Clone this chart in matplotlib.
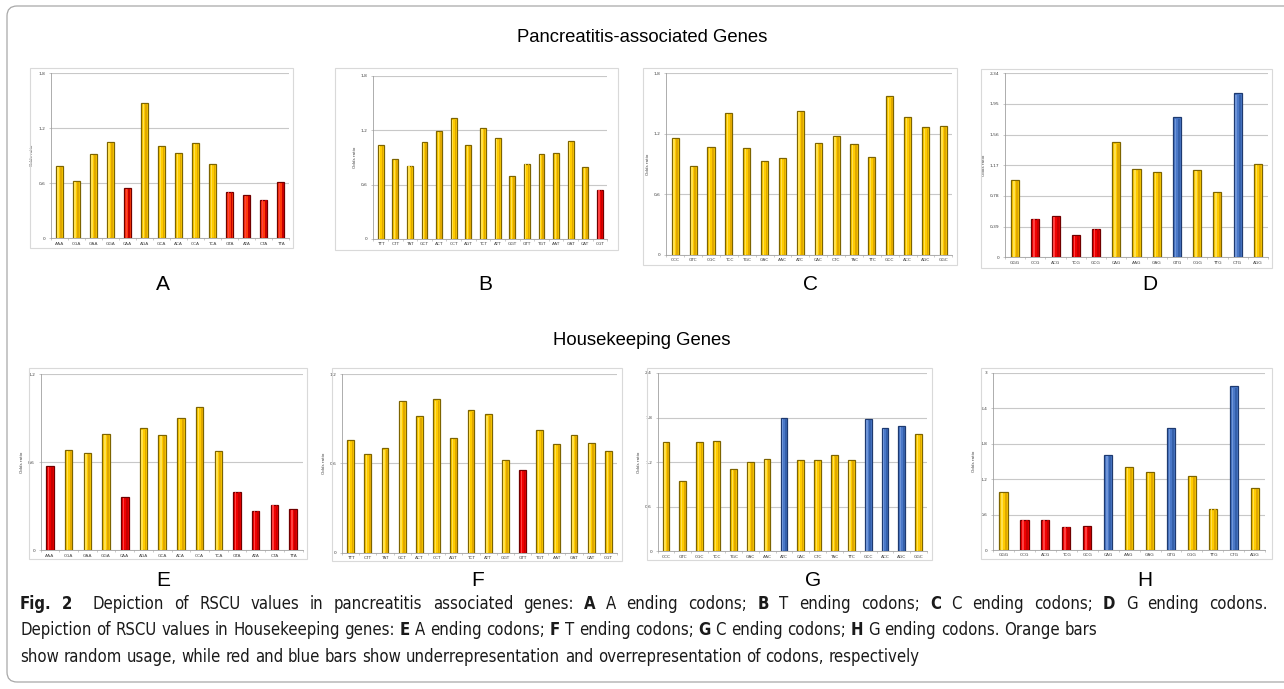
import numpy as np
import matplotlib
matplotlib.use("Agg")
import matplotlib.pyplot as plt
from matplotlib.patches import Rectangle, FancyBboxPatch
from matplotlib.transforms import IdentityTransform

W, H = 1284, 689

# ---- data (RSCU / odds ratio) ----
codons_a = ["AAA", "CGA", "GAA", "GGA", "CAA", "AGA", "GCA", "ACA", "CCA", "TCA", "GTA", "ATA", "CTA", "TTA"]
codons_t = ["TTT", "CTT", "TAT", "GCT", "ACT", "CCT", "AGT", "TCT", "ATT", "GGT", "GTT", "TGT", "AAT", "GAT", "CAT", "CGT"]
codons_c = ["CCC", "GTC", "CGC", "TCC", "TGC", "GAC", "AAC", "ATC", "CAC", "CTC", "TAC", "TTC", "GCC", "ACC", "AGC", "GGC"]
codons_g = ["GGG", "CCG", "ACG", "TCG", "GCG", "CAG", "AAG", "GAG", "GTG", "CGG", "TTG", "CTG", "AGG"]

# pancreatitis-associated genes
vals_a = [0.79, 0.62, 0.92, 1.05, 0.545, 1.48, 1.01, 0.93, 1.04, 0.81, 0.51, 0.47, 0.42, 0.61]
kind_a = ["o", "o", "o", "o", "r", "o", "o", "o", "o", "o", "r", "r", "r", "r"]
vals_b = [1.04, 0.88, 0.81, 1.07, 1.19, 1.33, 1.04, 1.22, 1.11, 0.69, 0.83, 0.94, 0.95, 1.08, 0.79, 0.54]
kind_b = ["o"] * 15 + ["r"]
vals_c = [1.16, 0.885, 1.07, 1.41, 1.06, 0.93, 0.96, 1.43, 1.11, 1.18, 1.10, 0.97, 1.575, 1.37, 1.265, 1.28]
kind_c = ["o"] * 16
vals_d = [0.98, 0.49, 0.52, 0.28, 0.36, 1.46, 1.12, 1.085, 1.78, 1.115, 0.83, 2.09, 1.19]
kind_d = ["o", "r", "r", "r", "r", "o", "o", "o", "b", "o", "o", "b", "o"]

# housekeeping genes
vals_e = [0.575, 0.68, 0.66, 0.795, 0.36, 0.83, 0.785, 0.90, 0.975, 0.675, 0.40, 0.27, 0.31, 0.28]
kind_e = ["r", "o", "o", "o", "r", "o", "o", "o", "o", "o", "r", "r", "r", "r"]
vals_f = [0.76, 0.665, 0.70, 1.02, 0.915, 1.03, 0.77, 0.955, 0.93, 0.62, 0.555, 0.825, 0.73, 0.79, 0.74, 0.68]
kind_f = ["o"] * 10 + ["r"] + ["o"] * 5
vals_g = [1.47, 0.94, 1.47, 1.49, 1.11, 1.20, 1.24, 1.80, 1.23, 1.23, 1.29, 1.23, 1.78, 1.66, 1.69, 1.58]
kind_g = ["o"] * 7 + ["b"] + ["o"] * 4 + ["b", "b", "b", "o"]
vals_h = [0.98, 0.51, 0.51, 0.395, 0.40, 1.615, 1.41, 1.32, 2.07, 1.25, 0.695, 2.78, 1.045]
kind_h = ["o", "r", "r", "r", "r", "b", "o", "o", "b", "o", "o", "b", "o"]

ticks_18 = [0, 0.6, 1.2, 1.8]
ticks_d = [0, 0.39, 0.78, 1.17, 1.56, 1.95, 2.34]
ticks_12 = [0, 0.6, 1.2]
ticks_24 = [0, 0.6, 1.2, 1.8, 2.4]
ticks_30 = [0, 0.6, 1.2, 1.8, 2.4, 3.0]

YELLOW, YELLOW_EDGE, YELLOW_DARK, YELLOW_LIGHT = "#FFCC00", "#7D6400", "#E0A800", "#FFE04D"
BLUE, BLUE_EDGE, BLUE_DARK, BLUE_LIGHT = "#4A78C8", "#1E3A70", "#3560AA", "#6F95D8"
RED_OR, RED, RED_EDGE, RED_DARK, RED_LIGHT = "#FF3A0A", "#F00000", "#700000", "#C80000", "#FF4040"

fig = plt.figure(figsize=(W / 100, H / 100), dpi=100)
fig.patch.set_facecolor("white")
PIX = IdentityTransform()


def fmt(v):
    s = f"{v:.2f}".rstrip("0").rstrip(".")
    return s.replace(".", ",")


def box(x0, y0, x1, y1, color="#D9D9D9", lw=0.8):
    fig.patches.append(Rectangle((x0, H - y1), x1 - x0, y1 - y0, transform=PIX,
                                 fill=False, edgecolor=color, linewidth=lw))


def panel(frame, plot, labels, values, kinds, yticks, red):
    box(*frame)
    x0, x1, ytop, ybot = plot
    ax = fig.add_axes([x0 / W, 1 - ybot / H, (x1 - x0) / W, (ybot - ytop) / H])
    x = np.arange(len(labels))
    v = np.array(values)
    face = {"o": YELLOW, "r": red, "b": BLUE}
    edge = {"o": YELLOW_EDGE, "r": RED_EDGE, "b": BLUE_EDGE}
    dark = {"o": YELLOW_DARK, "r": RED_DARK, "b": BLUE_DARK}
    light = {"o": YELLOW_LIGHT, "r": RED_LIGHT, "b": BLUE_LIGHT}
    ax.bar(x, v, width=0.4, color=[face[k] for k in kinds],
           edgecolor=[edge[k] for k in kinds], linewidth=0.9, zorder=3)
    # fake 3d shading like the excel bars
    ax.bar(x + 0.11, v * 0.99, width=0.1, color=[dark[k] for k in kinds], linewidth=0, zorder=4)
    ax.bar(x - 0.07, v * 0.99, width=0.08, color=[light[k] for k in kinds], linewidth=0, zorder=4)
    ax.set_xlim(-0.5, len(labels) - 0.5)
    ax.set_ylim(0, yticks[-1])
    ax.set_yticks(yticks)
    ax.set_yticklabels([fmt(t) for t in yticks])
    ax.set_xticks(x)
    ax.set_xticklabels(labels)
    ax.set_xticks(np.arange(len(labels) + 1) - 0.5, minor=True)
    ax.tick_params(axis="x", which="major", length=0, pad=2.5, labelsize=3.2, labelcolor="#404040")
    ax.tick_params(axis="x", which="minor", length=1.5, width=0.4, color="#A0A0A0")
    ax.tick_params(axis="y", length=1.5, width=0.4, color="#A0A0A0", pad=2.5,
                   labelsize=3.2, labelcolor="#404040")
    ax.grid(axis="y", color="#C8C8C8", linewidth=0.8, zorder=0)
    ax.set_axisbelow(True)
    for s in ["top", "right"]:
        ax.spines[s].set_visible(False)
    for s in ["left", "bottom"]:
        ax.spines[s].set_color("#A0A0A0")
        ax.spines[s].set_linewidth(0.6)
    ax.set_ylabel("Odds ratio", fontsize=3, color="#404040", labelpad=3)
    ax.patch.set_alpha(0)
    return ax


# top row: pancreatitis-associated genes
panel((30, 68, 293, 248), (50.7, 289.4, 73.3, 238.3), codons_a, vals_a, kind_a, ticks_18, RED_OR)
panel((335, 68, 618, 250), (373.4, 607.3, 75.7, 239), codons_t, vals_b, kind_b, ticks_18, RED)
panel((643, 68, 957, 265), (666.3, 952.3, 73.3, 255), codons_c, vals_c, kind_c, ticks_18, RED)
panel((981, 69, 1272, 268), (1005, 1268, 73.3, 257.3), codons_g, vals_d, kind_d, ticks_d, RED)

# bottom row: housekeeping genes
panel((29, 368, 307, 559), (40.6, 302.5, 374, 550.3), codons_a, vals_e, kind_e, ticks_12, RED)
panel((332, 368, 622, 561), (342.1, 617, 374, 552.7), codons_t, vals_f, kind_f, ticks_12, RED)
panel((647, 368, 932, 560), (657.6, 927.1, 373, 551.3), codons_c, vals_g, kind_g, ticks_24, RED)
panel((981, 368, 1272, 559), (992.9, 1265.3, 373, 550), codons_g, vals_h, kind_h, ticks_30, RED)

# headings and panel letters
sans = ["Liberation Sans", "DejaVu Sans"]
fig.text(642 / W, 1 - 38 / H, "Pancreatitis-associated Genes", ha="center", va="center",
         fontsize=13.3, family=sans)
fig.text(642 / W, 1 - 340 / H, "Housekeeping Genes", ha="center", va="center",
         fontsize=13.3, family=sans)
for letter, lx, ly in [("A", 163, 285), ("B", 485, 285), ("C", 810, 285), ("D", 1150, 285),
                       ("E", 163, 580), ("F", 478, 580), ("G", 813, 580), ("H", 1145, 580)]:
    fig.text(lx / W, 1 - ly / H, letter, ha="center", va="center", fontsize=15, family=sans)

# outer rounded frame
fig.patches.append(FancyBboxPatch((7, H - 682), 1300, 676, boxstyle="round,pad=0,rounding_size=10",
                                  transform=PIX, fill=False, edgecolor="#A8A8A8", linewidth=0.9))

# caption with bold runs
cap_font = ["DejaVu Sans"]
caption = [
    [("Fig. 2", "bold"), ("  Depiction of RSCU values in pancreatitis associated genes: ", "normal"),
     ("A", "bold"), (" A ending codons; ", "normal"), ("B", "bold"), (" T ending codons; ", "normal"),
     ("C", "bold"), (" C ending codons; ", "normal"), ("D", "bold"), (" G ending codons.", "normal")],
    [("Depiction of RSCU values in Housekeeping genes: ", "normal"), ("E", "bold"),
     (" A ending codons; ", "normal"), ("F", "bold"), (" T ending codons; ", "normal"),
     ("G", "bold"), (" C ending codons; ", "normal"), ("H", "bold"),
     (" G ending codons. Orange bars", "normal")],
    [("show random usage, while red and blue bars show underrepresentation and overrepresentation "
      "of codons, respectively", "normal")],
]
renderer = fig.canvas.get_renderer()
cap_size = 12.0


def put(txt, x, y, weight):
    t = fig.text(x / W, 1 - y / H, txt, ha="left", va="center", fontsize=cap_size,
                 fontweight=weight, family=cap_font, fontstretch="condensed", color="#1A1A1A")
    return t, t.get_window_extent(renderer).width


def space_width():
    a, wa = put("n n", 0, -50, "normal")
    b, wb = put("nn", 0, -50, "normal")
    a.remove()
    b.remove()
    return wa - wb


def draw_line(parts, x, y, gap):
    made, ngaps = [], 0
    for txt, weight in parts:
        for i, word in enumerate(txt.split(" ")):
            if i > 0:
                x += gap
                ngaps += 1
            if word:
                t, w = put(word, x, y, weight)
                made.append(t)
                x += w
    return x, made, ngaps


sp = space_width()
# first line is set justified to the right edge, the others ragged
end, trial, ngaps = draw_line(caption[0], 20, 604, sp)
for t in trial:
    t.remove()
extra = (1268 - end) / ngaps
draw_line(caption[0], 20, 604, sp + extra)
draw_line(caption[1], 20, 630, sp)
draw_line(caption[2], 20, 657, sp)

fig.savefig("out.png", dpi=100, facecolor="white")
